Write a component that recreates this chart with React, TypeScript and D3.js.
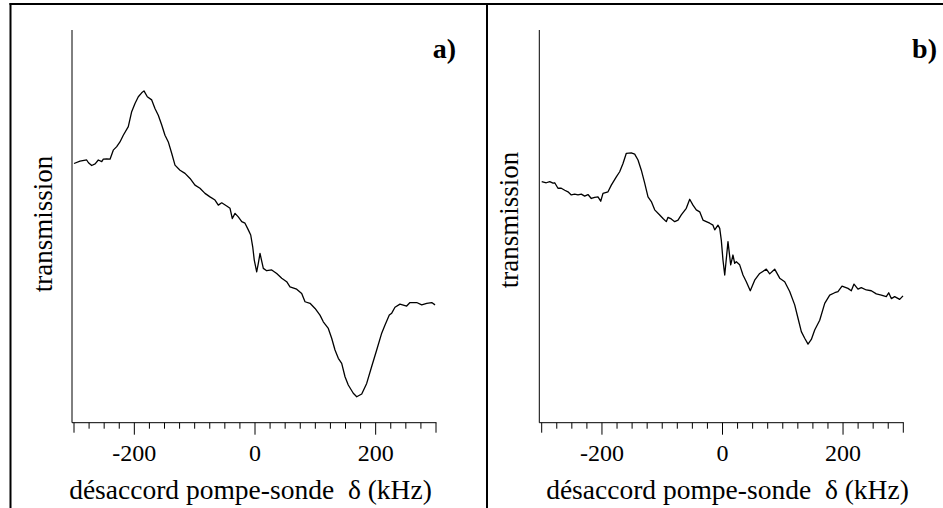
import React from "react";
import * as d3 from "d3";

// Panel a) : pump-probe detuning (kHz) and transmission (arb. units)
const detuningA = [
  -300, -290, -279, -276, -270.7, -265, -259.7, -254, -251.4, -245.8, -240.3, -234.9, -229.2, -223.8,
  -218.3, -210, -204.4, -198.9, -193.4, -187.8, -184, -178.5, -171.2, -165.8, -160.3, -154.6, -149.2,
  -143.7, -138.1, -132.6, -124.3, -116, -107.7, -99.5, -91.2, -82.9, -74.6, -66.3, -60.8, -55.2, -46.9,
  -41.4, -37.6, -33.1, -27.7, -22, -16.6, -11.1, -7.1, -3.8, -1.2, 2.8, 5.5, 8.3, 13.8, 19.4, 27.7, 36,
  44.3, 52.5, 58, 69.1, 77.4, 82.9, 91.2, 99.5, 107.7, 113.2, 121.5, 127.1, 132.6, 138.1, 143.7, 149.2,
  154.6, 162.9, 168.6, 176.9, 185.1, 193.4, 201.7, 210, 215.5, 222.6, 226.6, 232, 240.3, 251.4, 256.9,
  268, 276.3, 284.6, 292.9, 298.4,
];
const transmissionA = [
  66.0, 66.6, 66.9, 66.2, 65.5, 65.9, 66.9, 66.5, 67.1, 67.2, 67.1, 69.4, 70.3, 71.5,
  73.2, 75.4, 79.2, 81.3, 83.0, 84.0, 84.5, 83.0, 82.2, 80.0, 78.3, 75.8, 73.2,
  71.5, 68.6, 65.6, 64.3, 63.5, 62.2, 60.5, 59.7, 58.4, 57.5, 56.7, 55.4, 56.0, 55.2,
  54.6, 52.0, 53.3, 52.4, 51.2, 50.8, 49.1, 47.8, 44.8, 41.4, 38.4, 40.6, 43.1, 39.3, 38.7, 38.9, 38.0,
  36.8, 35.9, 34.6, 34.0, 32.9, 30.8, 30.4, 29.1, 27.4, 25.7, 24.0, 21.5, 18.5, 16.4, 15.1, 11.7,
  9.6, 7.5, 6.6, 7.3, 10.0, 14.3, 18.5, 22.8, 24.9, 27.4, 27.9, 29.4, 30.2, 29.7, 30.6,
  30.6, 30.0, 30.4, 30.6, 30.0,
];

// Panel b)
const detuningB = [
  -300, -292.4, -286.7, -281.3, -278.4, -273, -267.5, -261.8, -256.4, -250.9, -245.2, -239.8, -234.3,
  -228.7, -223.2, -217.7, -212.1, -206.6, -202.1, -198.3, -190, -184.5, -176.2, -170.6, -165.1, -159.6,
  -151.3, -145.7, -140.2, -134.7, -129.1, -123.6, -118.1, -112.5, -104.2, -98.7, -93.3, -90.4, -85,
  -79.3, -73.8, -68.4, -60.1, -54.4, -49, -43.5, -37.8, -32.4, -26.9, -21.2, -15.8, -12.9, -7.5, -4.6,
  -2, 0.8, 3.7, 9.1, 13.6, 17.4, 20.2, 22.9, 28.5, 34, 39.5, 46.1, 53.4, 61.7, 72.7, 78.3, 86.6, 94.9,
  103.2, 111.5, 119.8, 125.3, 130.8, 136.4, 141.9, 147.4, 153, 161.3, 169.6, 177.9, 186.2, 191.6, 198.3,
  208.2, 213.7, 218.2, 224.8, 230.3, 238.6, 246.9, 255.2, 263.5, 271.8, 275.8, 280.1, 285.7, 294, 299.5,
];
const transmissionB = [
  61.4, 61.1, 61.4, 61.0, 61.1, 59.7, 59.7, 59.2, 58.8, 58.0, 58.2, 58.0, 58.2,
  57.7, 58.1, 57.1, 57.4, 57.5, 56.4, 58.4, 58.8, 60.5, 62.6, 63.9, 66.0, 68.6,
  68.7, 68.4, 66.9, 64.3, 61.0, 57.5, 56.3, 54.2, 52.9, 52.0, 51.2, 52.3, 51.9,
  51.2, 51.6, 52.9, 54.6, 56.9, 55.4, 54.2, 53.7, 51.6, 51.2, 50.8, 50.3, 49.1, 50.3, 49.5,
  46.5, 41.4, 37.6, 46.1, 40.2, 42.7, 40.6, 41.0, 40.2, 37.6, 35.9, 33.6, 36.3, 38.0, 39.1, 37.9, 39.1, 36.8,
  35.9, 33.4, 30.0, 26.6, 23.2, 21.5, 20.0, 21.2, 23.6, 26.1, 30.4, 32.5, 33.1, 33.4, 34.8,
  34.2, 33.6, 35.3, 34.0, 34.4, 33.8, 33.6, 32.8, 32.5, 32.1, 33.1, 31.6, 32.1, 31.4, 32.3,
];

const xTickValues = d3.range(-300, 301, 25);
const xTickLabels = [-200, 0, 200];
const yLabel = "transmission";
const xLabel = "désaccord pompe-sonde\u00a0\u00a0δ (kHz)";
const panelTags = ["a)", "b)"];

const FONT = '"Liberation Serif", "Times New Roman", "DejaVu Serif", serif';
const textStyle: React.CSSProperties = { fontFamily: FONT };

type PanelProps = {
  xs: number[];
  ys: number[];
  x0: number;
  x1: number;
  axisX: number;
  ylabelX: number;
  ylabelY: number;
  titleX: number;
  tag: string;
  tagX: number;
};

function Panel({ xs, ys, x0, x1, axisX, ylabelX, ylabelY, titleX, tag, tagX }: PanelProps) {
  const x = d3.scaleLinear().domain([-300, 300]).range([x0, x1]);
  const y = d3.scaleLinear().domain([0, 100]).range([422.7, 30]);
  const pts: [number, number][] = xs.map((d, i) => [d, ys[i]]);
  const line = d3
    .line<[number, number]>()
    .x((d) => x(d[0]))
    .y((d) => y(d[1]))
    .curve(d3.curveLinear);
  const baseY = y(0);
  return (
    <g>
      <line x1={axisX} x2={axisX} y1={y(100)} y2={baseY} stroke="#000" strokeWidth={1} />
      <line x1={axisX} x2={x(300) + 0.5} y1={baseY} y2={baseY} stroke="#000" strokeWidth={1} />
      {xTickValues.map((t) => {
        const major = xTickLabels.includes(t);
        const end = Math.abs(t) === 300;
        const len = major ? 12 : end ? 10 : 6;
        return (
          <line key={t} x1={x(t)} x2={x(t)} y1={baseY} y2={baseY + len} stroke="#000" strokeWidth={1} />
        );
      })}
      {xTickLabels.map((t) => (
        <text key={t} x={x(t)} y={461} textAnchor="middle" style={textStyle} fontSize={24} fill="#000">
          {t}
        </text>
      ))}
      <text x={titleX} y={499} textAnchor="middle" style={textStyle} fontSize={27.5} fill="#000">
        {xLabel}
      </text>
      <text
        transform={`translate(${ylabelX},${ylabelY}) rotate(-90)`}
        textAnchor="middle"
        style={textStyle}
        fontSize={27}
        fill="#000"
      >
        {yLabel}
      </text>
      <text x={tagX} y={58} textAnchor="end" style={textStyle} fontWeight="bold" fontSize={28} fill="#000">
        {tag}
      </text>
      <path d={line(pts) || ""} fill="none" stroke="#000" strokeWidth={1.3} strokeLinejoin="round" />
    </g>
  );
}

export default function App() {
  return (
    <svg
      width={943}
      height={508}
      viewBox="0 0 943 508"
      style={{ position: "absolute", left: 0, top: 0, background: "#fff" }}
    >
      <rect x={0} y={0} width={943} height={508} fill="#fff" />
      <line x1={10.5} x2={10.5} y1={3} y2={508} stroke="#000" strokeWidth={2} />
      <line x1={9.5} x2={943} y1={4} y2={4} stroke="#000" strokeWidth={2} />
      <line x1={487} x2={487} y1={3} y2={508} stroke="#000" strokeWidth={2} />
      <Panel
        xs={detuningA}
        ys={transmissionA}
        x0={74}
        x1={436}
        axisX={72}
        ylabelX={51.5}
        ylabelY={224}
        titleX={250.5}
        tag={panelTags[0]}
        tagX={456}
      />
      <Panel
        xs={detuningB}
        ys={transmissionB}
        x0={541.7}
        x1={903.3}
        axisX={539.3}
        ylabelX={517.5}
        ylabelY={220}
        titleX={727.5}
        tag={panelTags[1]}
        tagX={937}
      />
    </svg>
  );
}
